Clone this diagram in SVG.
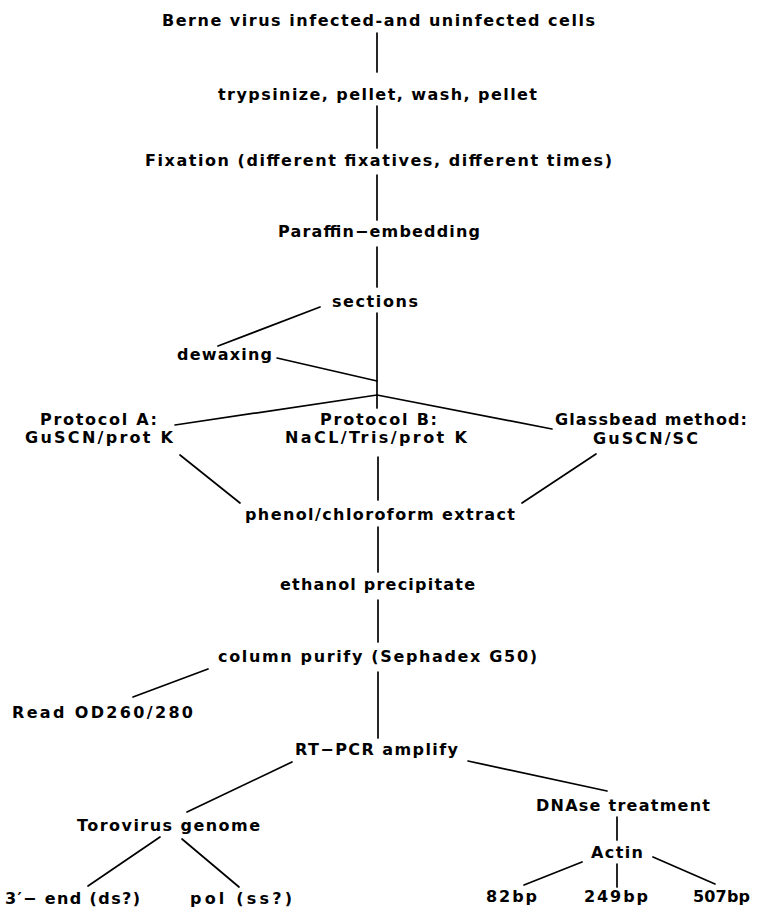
<svg xmlns="http://www.w3.org/2000/svg" width="757" height="910" viewBox="0 0 757 910">
<style>
text{font-family:"DejaVu Sans","Liberation Sans",Arial,sans-serif;font-size:16px;font-weight:bold;fill:#000}
.c line{stroke:#000;stroke-width:1.7;stroke-linecap:round}
</style>
<rect width="757" height="910" fill="#fff"/>
<g class="c" id="connectors">
<line x1="377" y1="33" x2="377" y2="72"/>
<line x1="377" y1="106" x2="377" y2="148"/>
<line x1="377" y1="175" x2="377" y2="220"/>
<line x1="377" y1="247" x2="377" y2="287"/>
<line x1="377" y1="313" x2="377" y2="408"/>
<line x1="320" y1="307" x2="218" y2="346"/>
<line x1="277" y1="358" x2="377" y2="381"/>
<line x1="175" y1="425" x2="377" y2="395"/>
<line x1="377" y1="395" x2="552" y2="429"/>
<line x1="180" y1="455" x2="240" y2="503"/>
<line x1="596" y1="454" x2="522" y2="503"/>
<line x1="378" y1="457" x2="378" y2="500"/>
<line x1="378" y1="527" x2="378" y2="572"/>
<line x1="378" y1="600" x2="378" y2="642"/>
<line x1="208" y1="669" x2="133" y2="697"/>
<line x1="378" y1="672" x2="378" y2="738"/>
<line x1="292" y1="762" x2="187" y2="812"/>
<line x1="468" y1="761" x2="607" y2="791"/>
<line x1="160" y1="837" x2="88" y2="886"/>
<line x1="182" y1="839" x2="239" y2="887"/>
<line x1="617" y1="817" x2="617" y2="840"/>
<line x1="582" y1="862" x2="524" y2="885"/>
<line x1="617" y1="864" x2="617" y2="887"/>
<line x1="653" y1="857" x2="715" y2="884"/>
</g>
<g id="n-berne"><text x="162" y="26" textLength="433" lengthAdjust="spacing">Berne virus infected-and uninfected cells</text></g>
<g id="n-trypsinize"><text x="218" y="100" textLength="319" lengthAdjust="spacing">trypsinize, pellet, wash, pellet</text></g>
<g id="n-fixation"><text x="145" y="166" textLength="467" lengthAdjust="spacing">Fixation (different fixatives, different times)</text></g>
<g id="n-paraffin"><text x="278" y="237" textLength="202" lengthAdjust="spacing">Paraffin−embedding</text></g>
<g id="n-sections"><text x="332" y="307" textLength="86" lengthAdjust="spacing">sections</text></g>
<g id="n-dewaxing"><text x="177" y="360" textLength="95" lengthAdjust="spacing">dewaxing</text></g>
<g id="n-protA"><text x="40" y="425" textLength="117" lengthAdjust="spacing">Protocol A:</text><text x="25" y="443" textLength="148" lengthAdjust="spacing">GuSCN/prot K</text></g>
<g id="n-protB"><text x="320" y="425" textLength="117" lengthAdjust="spacing">Protocol B:</text><text x="285" y="443" textLength="182" lengthAdjust="spacing">NaCL/Tris/prot K</text></g>
<g id="n-glass"><text x="555" y="425" textLength="192" lengthAdjust="spacing">Glassbead method:</text><text x="593" y="444" textLength="105" lengthAdjust="spacing">GuSCN/SC</text></g>
<g id="n-phenol"><text x="245" y="520" textLength="270" lengthAdjust="spacing">phenol/chloroform extract</text></g>
<g id="n-ethanol"><text x="280" y="590" textLength="195" lengthAdjust="spacing">ethanol precipitate</text></g>
<g id="n-column"><text x="218" y="662" textLength="319" lengthAdjust="spacing">column purify (Sephadex G50)</text></g>
<g id="n-read"><text x="12" y="718" textLength="181" lengthAdjust="spacing">Read OD260/280</text></g>
<g id="n-rtpcr"><text x="295" y="755" textLength="163" lengthAdjust="spacing">RT−PCR amplify</text></g>
<g id="n-dnase"><text x="536" y="811" textLength="174" lengthAdjust="spacing">DNAse treatment</text></g>
<g id="n-torovirus"><text x="77" y="831" textLength="183" lengthAdjust="spacing">Torovirus genome</text></g>
<g id="n-actin"><text x="591" y="858" textLength="52" lengthAdjust="spacing">Actin</text></g>
<g id="n-3end"><text x="5" y="904" textLength="135" lengthAdjust="spacing">3′− end (ds?)</text></g>
<g id="n-pol"><text x="190" y="904" textLength="102" lengthAdjust="spacing">pol (ss?)</text></g>
<g id="n-82"><text x="486" y="902" textLength="51" lengthAdjust="spacing">82bp</text></g>
<g id="n-249"><text x="584" y="902" textLength="64" lengthAdjust="spacing">249bp</text></g>
<g id="n-507"><text x="693" y="902" textLength="57" lengthAdjust="spacing">507bp</text></g>
</svg>
